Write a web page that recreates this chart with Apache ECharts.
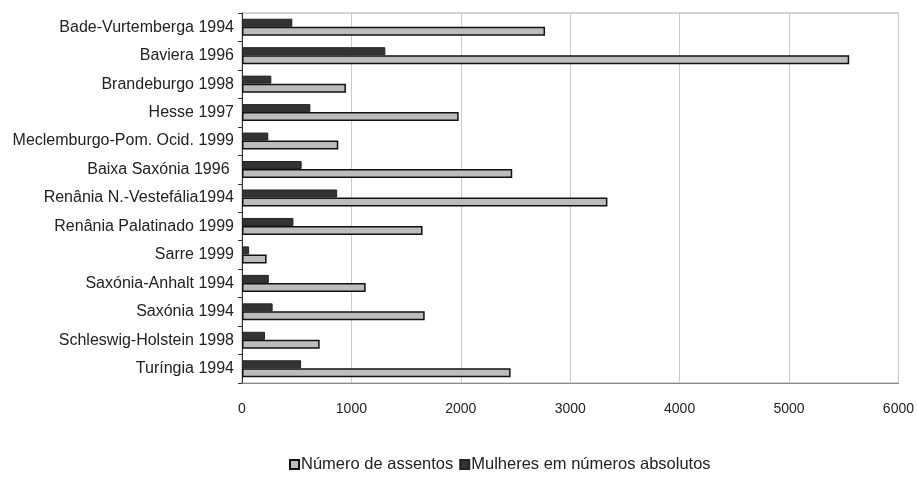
<!DOCTYPE html>
<html>
<head>
<meta charset="utf-8">
<script src="https://cdn.jsdelivr.net/npm/echarts@6/dist/echarts.min.js"></script>
<style>html,body{margin:0;padding:0;background:#fff}#c{width:917px;height:480px}</style>
</head>
<body>
<div id="c"></div>
<script>
var categories = ["Bade-Vurtemberga 1994","Baviera 1996","Brandeburgo 1998","Hesse 1997","Meclemburgo-Pom. Ocid. 1999","Baixa Saxónia 1996 ","Renânia N.-Vestefália1994","Renânia Palatinado 1999","Sarre 1999","Saxónia-Anhalt 1994","Saxónia 1994","Schleswig-Holstein 1998","Turíngia 1994"];
var assentos = [2770,5550,950,1980,880,2470,3340,1650,225,1130,1670,710,2455];
var mulheres = [460,1310,268,625,240,545,870,470,65,245,280,210,540];
var seriesNames = ["Número de assentos","Mulheres em números absolutos"];

var chart = echarts.init(document.getElementById('c'));
var font = 'Liberation Sans, Arial, Helvetica, sans-serif';
chart.setOption({
  animation:false,
  backgroundColor:'#fff',
  grid:{left:242,right:15,top:13,bottom:97,show:true,borderColor:'#aaa',borderWidth:1},
  legend:{
    data:[{name:seriesNames[0],icon:'rect'},{name:seriesNames[1],icon:'rect'}],
    left:284, top:451, itemWidth:9, itemHeight:9, itemGap:6,
    textStyle:{fontFamily:font,fontSize:16.5,color:'#222',padding:[0,0,0,-3]}
  },
  xAxis:{
    type:'value', min:0, max:6000, interval:1000,
    axisLine:{show:true,lineStyle:{color:'#888'}},
    axisTick:{show:false},
    axisLabel:{fontFamily:font,fontSize:14,color:'#222',margin:19,formatter:function(v){return String(v);}},
    splitLine:{show:true,lineStyle:{color:'#cccccc',width:1}}
  },
  yAxis:{
    type:'category', data:categories, inverse:true,
    axisLine:{show:true,lineStyle:{color:'#333'}},
    axisTick:{show:true,length:4,lineStyle:{color:'#333'}},
    axisLabel:{fontFamily:font,fontSize:16,color:'#222',margin:8}
  },
  series:[
    {name:seriesNames[1], type:'bar', data:mulheres, barWidth:8, barGap:'0%',
     itemStyle:{color:'#333', borderColor:'#222', borderWidth:1}},
    {name:seriesNames[0], type:'bar', data:assentos, barWidth:9, barGap:'0%',
     itemStyle:{color:'#bcbcbc', borderColor:'#111', borderWidth:1.5}}
  ]
});
</script>
</body>
</html>
